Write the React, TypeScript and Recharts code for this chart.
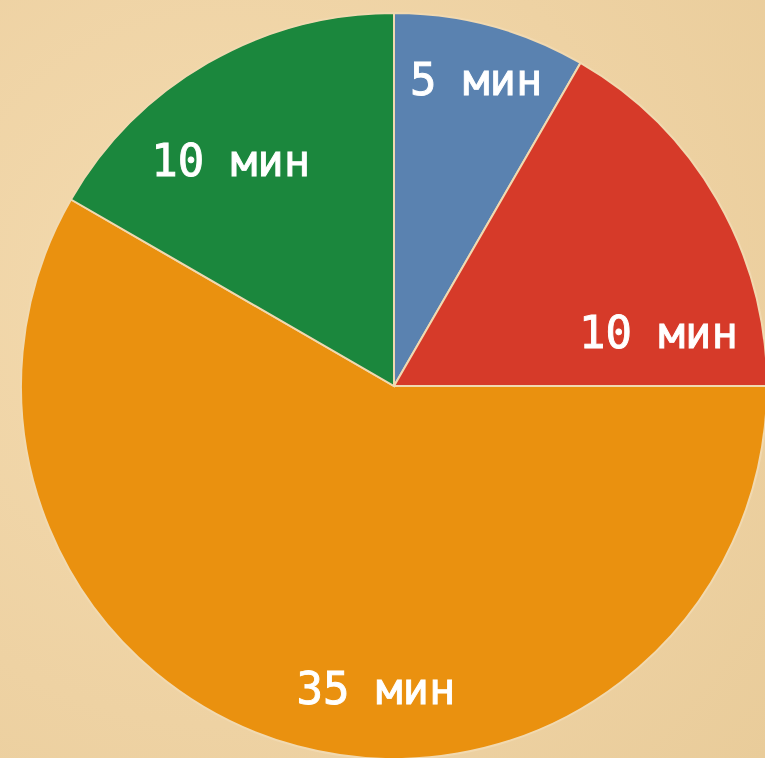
import { Cell, Pie, PieChart } from "recharts";

const SEGMENTS = ["Синий", "Красный", "Оранжевый", "Зелёный"];
const MINUTES = [5, 10, 35, 10];
const LABELS = ["5 мин", "10 мин", "35 мин", "10 мин"];

const COLORS = ["#5a82b0", "#d63a29", "#ea910f", "#1b873d"];
// label placement, tweaked per slice to sit where the original puts it
const LABEL_SHIFT = [0, -18.4, 11.6, 5.8];
const LABEL_RADIUS = [0.853, 0.724, 0.81, 0.748];

const RAD = Math.PI / 180;
const FONT = 44;

const data = SEGMENTS.map((name, i) => ({ name, value: MINUTES[i], label: LABELS[i] }));

function renderLabel(props: any) {
  const { cx, cy, midAngle, outerRadius, index } = props;
  const a = (midAngle + LABEL_SHIFT[index]) * RAD;
  const r = outerRadius * LABEL_RADIUS[index];
  const x = cx + r * Math.cos(-a);
  const y = cy + r * Math.sin(-a);
  return (
    <text
      x={x}
      y={y + FONT * 0.365}
      fill="#ffffff"
      stroke="#ffffff"
      strokeWidth={0.9}
      textAnchor="middle"
      fontFamily="'DejaVu Sans Mono', monospace"
      fontSize={FONT}
    >
      {LABELS[index]}
    </text>
  );
}

export default function App() {
  return (
    <div
      style={{
        position: "fixed",
        left: 0,
        top: 0,
        width: 765,
        height: 758,
        background: "radial-gradient(circle at 30% 40%, #f4dbb0 0%, #eed2a3 60%, #e9cc9a 100%)",
        overflow: "hidden",
      }}
    >
      <PieChart width={765} height={758} margin={{ top: 0, right: 0, bottom: 0, left: 0 }}>
        <Pie
          data={data}
          dataKey="value"
          nameKey="name"
          cx={394}
          cy={386}
          outerRadius={373}
          startAngle={90}
          endAngle={-270}
          stroke="#f1d9b0"
          strokeWidth={2}
          label={renderLabel}
          labelLine={false}
          isAnimationActive={false}
        >
          {data.map((d, i) => (
            <Cell key={d.name} fill={COLORS[i]} />
          ))}
        </Pie>
      </PieChart>
    </div>
  );
}
